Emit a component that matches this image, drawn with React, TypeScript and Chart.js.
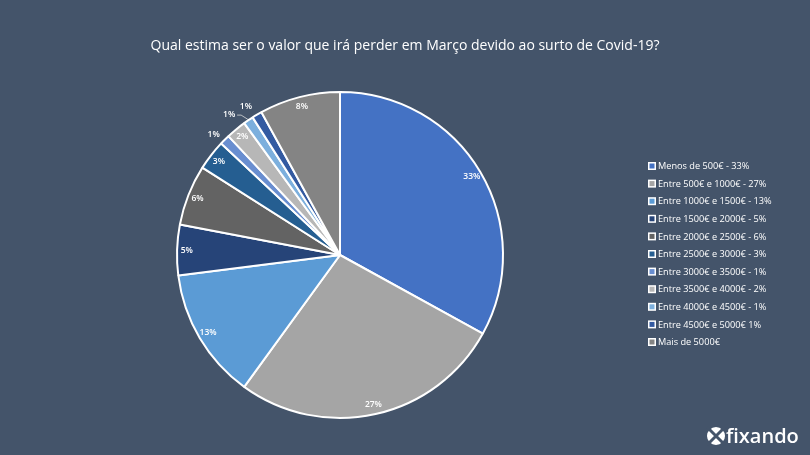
import React, { useEffect, useRef } from "react";
import { Chart, registerables } from "chart.js";

Chart.register(...registerables);

const TITLE = "Qual estima ser o valor que irá perder em Março devido ao surto de Covid-19?";

const categories = [
  "Menos de 500€ - 33%",
  "Entre 500€ e 1000€ - 27%",
  "Entre 1000€ e 1500€ - 13%",
  "Entre 1500€ e 2000€ - 5%",
  "Entre 2000€ e 2500€ - 6%",
  "Entre 2500€ e 3000€ - 3%",
  "Entre 3000€ e 3500€ - 1%",
  "Entre 3500€ e 4000€ - 2%",
  "Entre 4000€ e 4500€ - 1%",
  "Entre 4500€ e 5000€ 1%",
  "Mais de 5000€",
];

const shares = [33, 27, 13, 5, 6, 3, 1, 2, 1, 1, 8];

const sliceColors = [
  "#4472C4",
  "#A5A5A5",
  "#5B9BD5",
  "#264478",
  "#636363",
  "#255E91",
  "#698ED0",
  "#B7B7B7",
  "#7CAFDD",
  "#335AA1",
  "#848484",
];

const BG = "#44546A";
const FONT = "'Open Sans', 'Noto Sans', sans-serif";

// per-slice label placement: radius factor and angular nudge (degrees)
const labelRadius = [0.94, 0.94, 0.94, 0.94, 0.94, 0.94, 1.07, 0.94, 1.1, 1.08, 0.94];
const labelNudge = [0, 0, 0, 0, 0, 0, -1.4, 0, -4, -1.7, 0];

const decorPlugin = {
  id: "decor",
  beforeDraw(chart: any) {
    const { ctx, width, height } = chart;
    ctx.save();
    ctx.fillStyle = BG;
    ctx.fillRect(0, 0, width, height);
    ctx.restore();
  },
  afterDraw(chart: any) {
    const { ctx } = chart;
    const meta = chart.getDatasetMeta(0);
    ctx.save();

    // title
    ctx.fillStyle = "#FFFFFF";
    ctx.font = `14px ${FONT}`;
    ctx.textAlign = "center";
    ctx.textBaseline = "middle";
    ctx.fillText(TITLE, 405, 46);

    // slice labels
    ctx.font = `600 8.5px ${FONT}`;
    meta.data.forEach((arc: any, i: number) => {
      const { x, y, startAngle, endAngle, outerRadius } = arc.getProps(
        ["x", "y", "startAngle", "endAngle", "outerRadius"],
        true
      );
      const mid = (startAngle + endAngle) / 2;
      const a = mid + (labelNudge[i] * Math.PI) / 180;
      const r = outerRadius * labelRadius[i];
      const lx = x + Math.cos(a) * r;
      const ly = y + Math.sin(a) * r;
      if (labelNudge[i] < -3) {
        // leader line from label to slice edge
        ctx.strokeStyle = "#D9D9D9";
        ctx.lineWidth = 0.8;
        ctx.beginPath();
        ctx.moveTo(lx + 8, ly + 1);
        ctx.lineTo(lx + 12, ly + 1);
        ctx.lineTo(x + Math.cos(mid) * (outerRadius + 1), y + Math.sin(mid) * (outerRadius + 1));
        ctx.stroke();
      }
      ctx.fillStyle = "#FFFFFF";
      ctx.fillText(`${shares[i]}%`, lx, ly);
    });

    // legend
    ctx.textAlign = "left";
    ctx.font = `9.2px ${FONT}`;
    const lx0 = 648;
    const ly0 = 166;
    const step = 17.6;
    categories.forEach((label, i) => {
      const cy = ly0 + i * step;
      ctx.fillStyle = "#FFFFFF";
      ctx.fillRect(lx0, cy - 4, 8, 8);
      ctx.fillStyle = sliceColors[i];
      ctx.fillRect(lx0 + 1.5, cy - 2.5, 5, 5);
      ctx.fillStyle = "#FFFFFF";
      ctx.fillText(label, lx0 + 10, cy + 0.5);
    });

    // brand mark
    const ix = 716;
    const iy = 436;
    ctx.fillStyle = "#FFFFFF";
    ctx.beginPath();
    ctx.arc(ix, iy, 9, 0, Math.PI * 2);
    ctx.fill();
    ctx.strokeStyle = BG;
    ctx.lineWidth = 3;
    ctx.beginPath();
    ctx.moveTo(ix - 9, iy - 9);
    ctx.lineTo(ix + 9, iy + 9);
    ctx.moveTo(ix + 9, iy - 9);
    ctx.lineTo(ix - 9, iy + 9);
    ctx.stroke();
    ctx.fillStyle = "#FFFFFF";
    ctx.font = `600 20px ${FONT}`;
    ctx.textBaseline = "alphabetic";
    ctx.fillText("fixando", 726, 443);

    ctx.restore();
  },
};

export default function App() {
  const canvasRef = useRef<HTMLCanvasElement | null>(null);

  useEffect(() => {
    document.body.style.margin = "0";
    const canvas = canvasRef.current;
    if (!canvas) return;
    const chart = new Chart(canvas, {
      type: "pie",
      data: {
        labels: categories,
        datasets: [
          {
            data: shares,
            backgroundColor: sliceColors,
            borderColor: "#FFFFFF",
            borderWidth: 2,
          },
        ],
      },
      options: {
        responsive: false,
        animation: false,
        layout: { padding: { left: 176, right: 306, top: 91, bottom: 36 } },
        plugins: {
          legend: { display: false },
          tooltip: { enabled: false },
          title: { display: false },
        },
      },
      plugins: [decorPlugin],
    });
    return () => chart.destroy();
  }, []);

  return (
    <div style={{ width: 810, height: 455, background: BG }}>
      <canvas ref={canvasRef} width={810} height={455} />
    </div>
  );
}
